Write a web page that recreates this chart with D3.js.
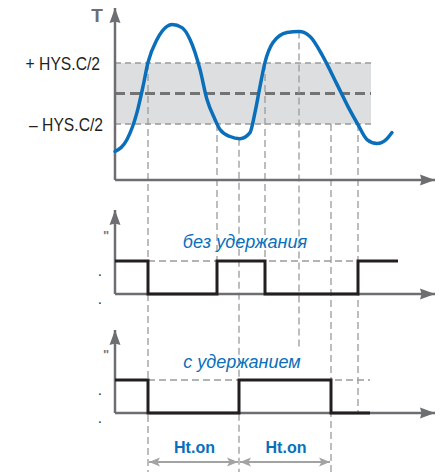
<!DOCTYPE html>
<html><head><meta charset="utf-8">
<script src="https://cdn.jsdelivr.net/npm/d3@7"></script>
<style>
html,body{margin:0;padding:0;background:#fff;}
svg{display:block;}
</style></head>
<body>
<script>
// ---- data ----
const curveTime = [0, 1.2, 2.2, 2.8, 3.3, 4.2, 5.2, 5.7, 6.7, 7.5, 8.5, 9.2, 10.0, 10.5, 11.5, 12.5, 13.5, 14.0, 14.5, 15.0, 15.8, 17.2, 18.4, 19.5, 20.8, 22.2, 23.3, 24.3, 25.2, 26.2, 27.2, 27.7];
const curveTemp = [-1.90, -1.51, -0.62, 0.23, 1.02, 1.77, 2.20, 2.26, 2.16, 1.77, 0.79, -0.20, -0.85, -1.18, -1.41, -1.48, -1.28, -0.62, 0.23, 1.02, 1.67, 2.00, 2.03, 1.87, 1.21, 0.30, -0.43, -1.02, -1.51, -1.64, -1.48, -1.28];
const hysLevels = [1, -1];
const hysLabels = ["+ HYS.C/2", "– HYS.C/2"];
const bandEnd = 25.6;
const guideTime = [3.3, 10.2, 12.4, 15.0, 18.4, 21.6, 24.3];
const guideFromTemp = [1, -1, -1.48, 1, 2.03, -1, -1];
const guideToPanel = ["bottomEdge", "mid", "bottomEdge", "mid", "holdLabel", "bottomEdge", "bottomAxis"];
const noHoldTime = [0, 3.3, 10.2, 15.0, 24.3, 28.3];
const noHoldState = [1, 0, 1, 0, 1, 1];
const holdTime = [0, 3.3, 12.4, 21.6, 25.5];
const holdState = [1, 0, 1, 0, 0];
const noHoldRefEnd = 24.3;
const holdRefEnd = 25.5;
const holdIntervals = [[3.3, 12.4], [12.4, 21.6]];
const holdLabel = "Ht.on";
const panelTitles = ["без удержания", "с удержанием"];
const axisLabelT = "T";

// ---- layout ----
const W = 443, H = 472;
const svg = d3.select("body").append("svg").attr("width", W).attr("height", H);
const x = d3.scaleLinear().domain([0, 32]).range([115, 435]);
const yT = d3.scaleLinear().domain([-1, 1]).range([124, 63]);
const yMid = d3.scaleLinear().domain([0, 1]).range([294, 261]);
const yBot = d3.scaleLinear().domain([0, 1]).range([413, 380]);
const axisCol = "#6d6e71", dashCol = "#9a9a9a", blue = "#0a6fba", sigCol = "#231f20";
const sans = "'Liberation Sans', Arial, sans-serif";

const defs = svg.append("defs");
defs.append("marker").attr("id", "ah").attr("markerUnits", "userSpaceOnUse")
  .attr("markerWidth", 16).attr("markerHeight", 12).attr("refX", 15).attr("refY", 6)
  .attr("orient", "auto").append("path").attr("d", "M0,0.5 L15,6 L0,11.5 L1.5,6 Z").attr("fill", axisCol);
defs.append("marker").attr("id", "hh").attr("markerUnits", "userSpaceOnUse")
  .attr("markerWidth", 12).attr("markerHeight", 10).attr("refX", 11).attr("refY", 5)
  .attr("orient", "auto-start-reverse").append("path").attr("d", "M0,0.5 L11,5 L0,9.5 L2.5,5 Z").attr("fill", "#a3a3a3");

// band
svg.append("rect").attr("x", x(0)).attr("y", yT(1)).attr("width", x(bandEnd) - x(0))
  .attr("height", yT(-1) - yT(1)).attr("fill", "#dddee0");
svg.selectAll("line.hys").data(hysLevels).join("line")
  .attr("x1", x(0)).attr("x2", x(bandEnd)).attr("y1", d => yT(d)).attr("y2", d => yT(d))
  .attr("stroke", dashCol).attr("stroke-width", 1.3).attr("stroke-dasharray", "6,4");
svg.append("line").attr("x1", x(0)).attr("x2", x(bandEnd)).attr("y1", yT(0)).attr("y2", yT(0))
  .attr("stroke", "#737373").attr("stroke-width", 3).attr("stroke-dasharray", "10,5");

// guides
const guideEnd = {mid: yMid(0), holdLabel: 348, bottomEdge: H, bottomAxis: yBot(0)};
svg.selectAll("line.guide").data(guideTime).join("line")
  .attr("x1", d => x(d)).attr("x2", d => x(d))
  .attr("y1", (d, i) => yT(guideFromTemp[i])).attr("y2", (d, i) => guideEnd[guideToPanel[i]])
  .attr("stroke", dashCol).attr("stroke-width", 1.3).attr("stroke-dasharray", "7,4");

// reference high-level dashed lines
svg.append("line").attr("x1", x(3.3)).attr("x2", x(noHoldRefEnd)).attr("y1", yMid(1)).attr("y2", yMid(1))
  .attr("stroke", dashCol).attr("stroke-width", 1.3).attr("stroke-dasharray", "7,4");
svg.append("line").attr("x1", x(3.3)).attr("x2", x(holdRefEnd)).attr("y1", yBot(1)).attr("y2", yBot(1))
  .attr("stroke", dashCol).attr("stroke-width", 1.3).attr("stroke-dasharray", "7,4");

// axes
function axes(yb, yt) {
  svg.append("line").attr("x1", 115).attr("x2", 115).attr("y1", yb).attr("y2", yt)
    .attr("stroke", axisCol).attr("stroke-width", 2.5).attr("marker-end", "url(#ah)");
  svg.append("line").attr("x1", 115).attr("x2", 435).attr("y1", yb).attr("y2", yb)
    .attr("stroke", axisCol).attr("stroke-width", 2.5).attr("marker-end", "url(#ah)");
}
axes(180, 8);
axes(yMid(0), 210);
axes(yBot(0), 330);

// curve
const pts = curveTime.map((t, i) => [t, curveTemp[i]]);
svg.append("path").datum(pts)
  .attr("d", d3.line().x(d => x(d[0])).y(d => yT(d[1])).curve(d3.curveMonotoneX))
  .attr("fill", "none").attr("stroke", blue).attr("stroke-width", 3.5).attr("stroke-linecap", "round");

// signals
function sig(times, states, ys) {
  const p = times.map((t, i) => [t, states[i]]);
  svg.append("path").datum(p)
    .attr("d", d3.line().x(d => x(d[0])).y(d => ys(d[1])).curve(d3.curveStepAfter))
    .attr("fill", "none").attr("stroke", sigCol).attr("stroke-width", 3);
}
sig(noHoldTime, noHoldState, yMid);
sig(holdTime, holdState, yBot);

// labels
svg.selectAll("text.hys").data(hysLevels).join("text")
  .attr("transform", (d, i) => `translate(${i === 0 ? 100 : 103},${yT(d) + 7}) scale(0.87,1)`)
  .attr("text-anchor", "end").attr("font-family", sans).attr("font-size", 18).attr("fill", "#231f20")
  .text((d, i) => hysLabels[i]);
svg.append("text").attr("x", 97).attr("y", 22).attr("text-anchor", "middle")
  .attr("font-family", sans).attr("font-weight", "bold")
  .attr("font-size", 19).attr("fill", axisCol).text(axisLabelT);

[[panelTitles[0], 245, 248], [panelTitles[1], 242, 368]].forEach(([t, cx, by]) => {
  svg.append("text").attr("transform", `translate(${cx},${by}) scale(0.95,1)`).attr("text-anchor", "middle")
    .attr("font-family", sans).attr("font-style", "italic").attr("font-size", 19)
    .attr("fill", blue).text(t);
});
// small marks
[[yMid, 233], [yBot, 352]].forEach(([ys, qy]) => {
  svg.append("text").attr("x", 106).attr("y", qy + 7).attr("text-anchor", "middle")
    .attr("font-family", sans).attr("font-size", 13).attr("font-weight", "bold")
    .attr("fill", "#777").text('"');
  [ys(0.6), ys(-0.25)].forEach(dy => {
    svg.append("text").attr("x", 100).attr("y", dy + 2).attr("text-anchor", "middle")
      .attr("font-family", sans).attr("font-size", 10).attr("font-weight", "bold")
      .attr("fill", "#333").text(".");
  });
});

// hold intervals
holdIntervals.forEach(([a, b]) => {
  svg.append("line").attr("x1", x(a) + 1).attr("x2", x(b) - 1).attr("y1", 462).attr("y2", 462)
    .attr("stroke", "#a3a3a3").attr("stroke-width", 2)
    .attr("marker-start", "url(#hh)").attr("marker-end", "url(#hh)");
  svg.append("text").attr("x", (x(a) + x(b)) / 2 + 1).attr("y", 453).attr("text-anchor", "middle")
    .attr("font-family", sans).attr("font-weight", "bold")
    .attr("font-size", 16).attr("fill", blue).text(holdLabel);
});
</script>
</body></html>
